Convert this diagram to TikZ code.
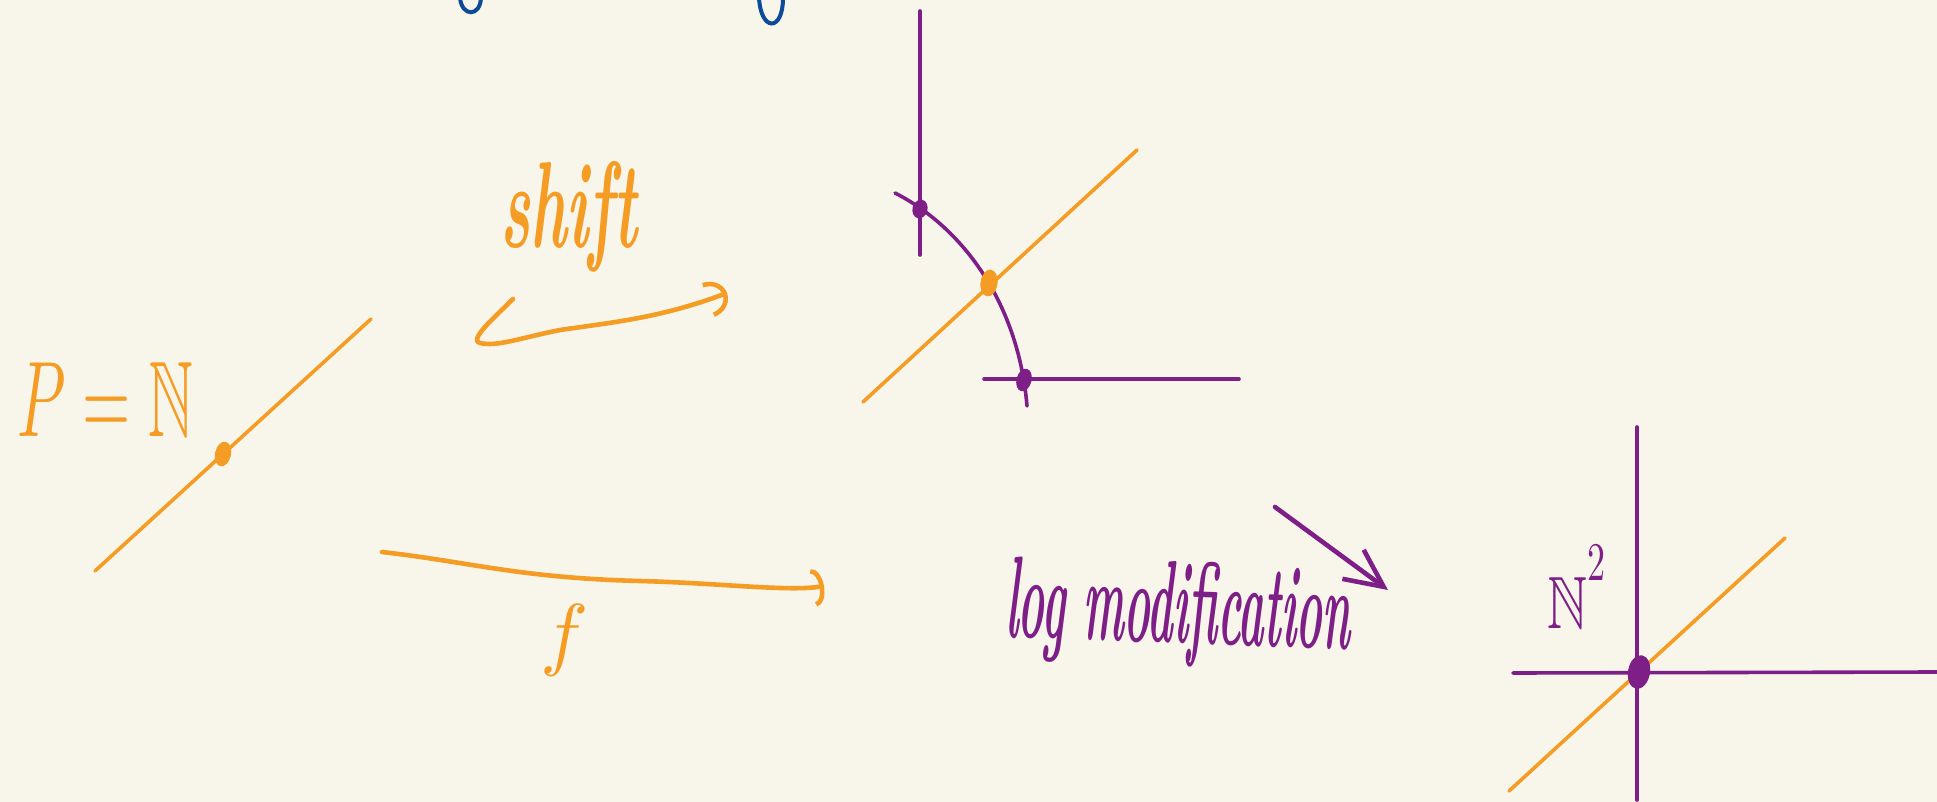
\documentclass[tikz,border=0pt]{standalone}
\usepackage{amsmath}
\usepackage{amssymb}
\usepackage{xcolor}
\usepackage{tikz}
\usetikzlibrary{arrows.meta}
\definecolor{paper}{HTML}{F8F6EA}
\definecolor{inkorange}{HTML}{F59C24}
\definecolor{inkpurple}{HTML}{7E1F88}
\definecolor{inkblue}{HTML}{0D4B98}
\tikzset{
  axisline/.style={draw=inkpurple, line width=3.6pt, line cap=round},
  fibreline/.style={draw=inkorange, line width=3.6pt, line cap=round},
  handarrow/.style={draw=inkorange, line width=4.6pt, line cap=round, line join=round},
  scribble/.style={inner sep=0pt, outer sep=0pt}
}

\begin{document}
\begin{tikzpicture}[x=1pt,y=-1pt]
  \useasboundingbox (0,0) rectangle (1937,802);
  \fill[paper] (0,0) rectangle (1937,802);
  \clip (0,0) rectangle (1937,802);

  % cut-off strokes of the line above
  \draw[inkblue, line width=4pt, line cap=round] (460,-2) .. controls (462,17) and (480,17) .. (481,-2);
  \draw[inkblue, line width=4pt, line cap=round] (759,-2) .. controls (761,32) and (783,32) .. (783,-2);

  % left: the point on a line
  \node[scribble, anchor=base west, text=inkorange] (pN) at (17,436)
    {\resizebox{176pt}{74pt}{$P=\mathbb{N}$}};
  \coordinate (lineA) at (95,571);
  \coordinate (lineB) at (371,319);
  \draw[fibreline] (lineA) -- (lineB);
  \fill[inkorange, rotate around={-12:(223,454)}] (223,454) ellipse [x radius=8, y radius=12.5];

  % shift arrow
  \node[scribble, anchor=base west, text=inkorange] (shiftlabel) at (500,248)
    {\resizebox{137pt}{86pt}{\bfseries\itshape shift}};
  \coordinate (shiftA) at (513,299);
  \coordinate (shiftB) at (727,293);
  \draw[handarrow, -{Arc Barb[length=20pt,width=36pt]}] (shiftA)
    .. controls (495,317) and (468,340) .. (480,343)
    .. controls (497,347) and (520,338) .. (560,330)
    .. controls (615,322) and (660,318) .. (shiftB);

  % f arrow
  \coordinate (fA) at (382,552);
  \coordinate (fB) at (824,586);
  \draw[handarrow, -{Arc Barb[length=11pt,width=38pt]}] (fA)
    .. controls (470,562) and (520,578) .. (640,581)
    .. controls (720,583) and (790,592) .. (fB);
  \node[scribble, anchor=base, text=inkorange] (flabel) at (565,660)
    {\resizebox{!}{56pt}{$f$}};

  % middle: shifted picture
  \draw[axisline] (920,11) -- (920,255);
  \draw[axisline] (984,379) -- (1239,379);
  \draw[fibreline] (863,402) -- (1137,150);
  \draw[axisline] (895,193) .. controls (960,226) and (1018,300) .. (1027,406);
  \fill[inkpurple, rotate around={-15:(920,209)}] (920,209) ellipse [x radius=7.5, y radius=9.5];
  \fill[inkpurple, rotate around={-15:(1024,380)}] (1024,380) ellipse [x radius=7.5, y radius=11.5];
  \fill[inkorange, rotate around={-8:(989,283)}] (989,283) ellipse [x radius=8.5, y radius=13.5];

  % log modification arrow
  \node[scribble, anchor=base west, text=inkpurple, rotate=-2] (loglabel) at (1005,637)
    {\resizebox{345pt}{82pt}{\bfseries\itshape log modification}};
  \coordinate (logA) at (1275,507);
  \coordinate (logB) at (1388,590);
  \draw[handarrow, draw=inkpurple, -{Straight Barb[length=38pt,width=36pt]}] (logA) -- (logB);

  % right: the point on N^2
  \draw[axisline] (1637,427) -- (1637,800);
  \draw[axisline] (1513,673) -- (1937,672);
  \draw[fibreline] (1509,791) -- (1785,538);
  \fill[inkpurple, rotate around={-10:(1639,672)}] (1639,672) ellipse [x radius=11, y radius=17];
  \node[scribble, anchor=base west, text=inkpurple] (Nsq) at (1547,628)
    {\resizebox{40pt}{51pt}{$\mathbb{N}$}\raisebox{48pt}{\resizebox{18pt}{35pt}{$2$}}};
\end{tikzpicture}
\end{document}
